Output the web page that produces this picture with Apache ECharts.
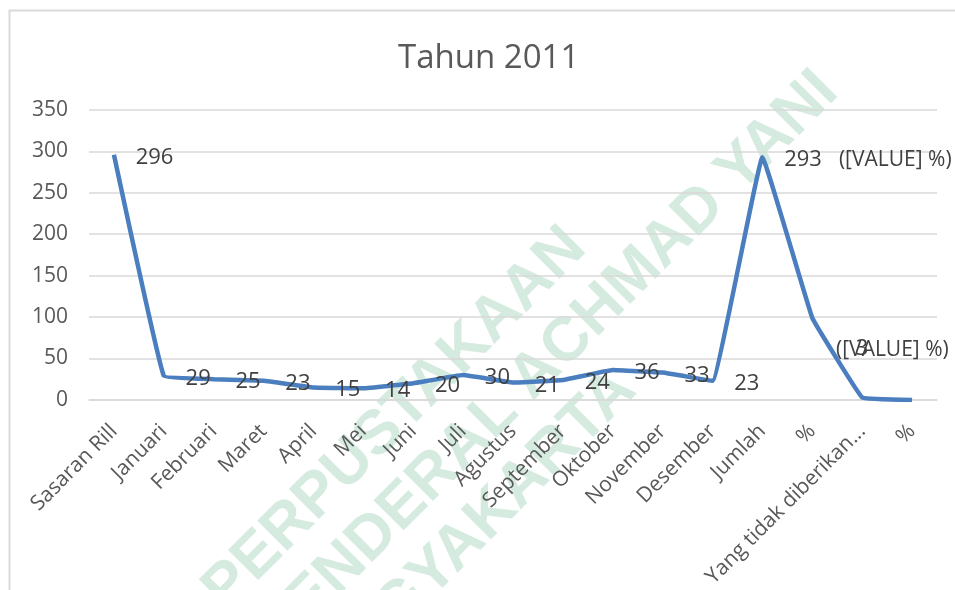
<!DOCTYPE html>
<html>
<head>
<meta charset="utf-8">
<script src="https://cdn.jsdelivr.net/npm/echarts@6/dist/echarts.min.js"></script>
<style>
html,body{margin:0;padding:0;background:#fff;}
#chart{width:955px;height:590px;}
</style>
</head>
<body>
<div id="chart"></div>
<script>
var titleText = 'Tahun 2011';
var categories = ['Sasaran Rill','Januari','Februari','Maret','April','Mei','Juni','Juli','Agustus','September','Oktober','November','Desember','Jumlah','%','Yang tidak diberikan...','%'];
var values = [296, 29, 25, 23, 15, 14, 20, 30, 21, 24, 36, 33, 23, 293, 99, 3, 0];
var yTicks = [0, 50, 100, 150, 200, 250, 300, 350];
var placeholderLabel = '([VALUE] %)';
var watermarkLines = ['PERPUSTAKAAN', 'UNIVERSITAS JENDERAL ACHMAD YANI', 'YOGYAKARTA'];

var FONT = 'Open Sans';
var txt = '#595959';
var lbl = '#404040';

var seriesData = values.map(function (v, i) {
  var d = { value: v };
  if (i === 13) {
    d.label = {
      formatter: '{a|' + v + '}{b|' + placeholderLabel + '}',
      rich: { a: { fontSize: 22, color: lbl, fontFamily: FONT, padding: [0, 17, 0, 0] },
              b: { fontSize: 21, color: lbl, fontFamily: FONT } }
    };
  } else if (i === 14) {
    d.label = { formatter: placeholderLabel, position: [24, 32], fontSize: 21 };
  } else if (i === 15) {
    d.label = { position: [0, -48], align: 'center' };
  } else if (i === 16) {
    d.label = { show: false };
  }
  return d;
});

var wmAngle = Math.PI / 4;
var wmEnds = [[576, 238], [828, 82], [626, 380]];
var wmGraphics = watermarkLines.map(function (t, i) {
  return {
    type: 'text', x: wmEnds[i][0], y: wmEnds[i][1], rotation: wmAngle, z: -10,
    style: { text: t, fill: '#d5ebdf', font: 'bold 62px "Liberation Sans", Arial, sans-serif',
             textAlign: 'right', textVerticalAlign: 'middle' }
  };
});
wmGraphics.push({
  type: 'rect', shape: { x: 9.5, y: 10.5, width: 2000, height: 2000 }, z: -20,
  style: { fill: 'none', stroke: '#d9d9d9', lineWidth: 2 }
});

var chart = echarts.init(document.getElementById('chart'), null, { renderer: 'canvas' });
chart.setOption({
  animation: false,
  backgroundColor: '#fff',
  title: {
    text: titleText, left: 393, top: 37,
    textStyle: { fontFamily: FONT, fontSize: 33, fontWeight: 'normal', color: txt }
  },
  graphic: wmGraphics,
  grid: { left: 89, right: 18, top: 110, bottom: 190, containLabel: false },
  xAxis: {
    type: 'category', data: categories, boundaryGap: true,
    axisLine: { lineStyle: { color: '#d9d9d9', width: 1.5 } },
    axisTick: { show: false },
    axisLabel: { rotate: 45, interval: 0, margin: 28, color: txt, fontFamily: FONT, fontSize: 21 }
  },
  yAxis: {
    type: 'value', min: 0, max: 350, interval: 50,
    axisLine: { show: false }, axisTick: { show: false },
    splitLine: { lineStyle: { color: '#d9d9d9', width: 1.5 } },
    axisLabel: { margin: 21, color: txt, fontFamily: FONT, fontSize: 21,
      formatter: function (v) { return yTicks.indexOf(v) >= 0 ? String(v) : ''; } }
  },
  series: [{
    type: 'line', data: seriesData, smooth: 0.06, symbol: 'circle', symbolSize: 0.5, showSymbol: true,
    itemStyle: { color: 'rgba(74,126,191,0)' }, z: 5,
    emphasis: { disabled: true },
    lineStyle: { color: '#4a7ebf', width: 4.5 },
    label: { show: true, position: [22, 3], align: 'left', verticalAlign: 'middle',
      color: lbl, fontFamily: FONT, fontSize: 22 },
    labelLayout: { hideOverlap: false }
  }]
});
</script>
</body>
</html>
